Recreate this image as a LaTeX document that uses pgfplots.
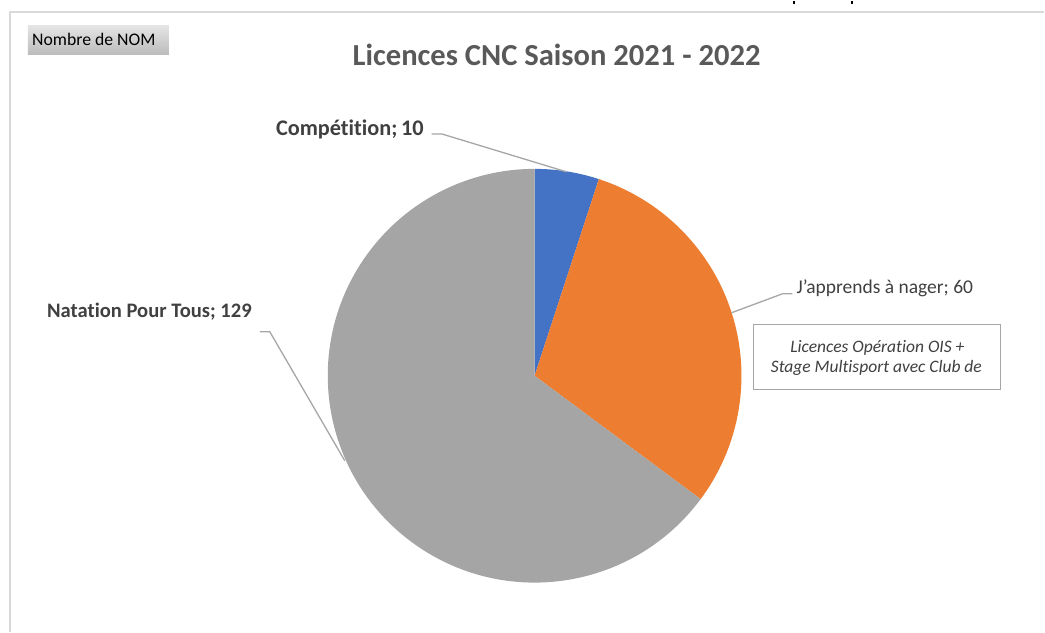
\documentclass[border=0pt]{standalone}
\usepackage{pgfplots}
\pgfplotsset{compat=1.18}
\usepackage{pgfplotstable}
\usepackage{fontspec}
\setmainfont{Carlito}[Ligatures={ResetAll,NoCommon}]
\definecolor{cblue}{HTML}{4472C4}
\definecolor{corange}{HTML}{ED7D31}
\definecolor{cgray}{HTML}{A5A5A5}
\definecolor{ctitle}{HTML}{595959}
\definecolor{clab}{HTML}{404040}
\definecolor{clead}{HTML}{A6A6A6}
\definecolor{cframe}{HTML}{D9D9D9}
\definecolor{btop}{HTML}{E4E4E4}
\definecolor{bbot}{HTML}{BBBBBB}
\pgfplotstableread{
slice value
Competition 10
Apprendre 60
Natation 129
}\piedata
\begin{document}
\begin{tikzpicture}
\pgfplotstablegetelem{0}{value}\of\piedata \edef\va{\pgfplotsretval}
\pgfplotstablegetelem{1}{value}\of\piedata \edef\vb{\pgfplotsretval}
\pgfplotstablegetelem{2}{value}\of\piedata \edef\vc{\pgfplotsretval}
\pgfmathsetmacro\tot{\va+\vb+\vc}
\pgfmathsetmacro\angA{90-(\va/\tot)*360}
\pgfmathsetmacro\angB{\angA-(\vb/\tot)*360}
\begin{axis}[width=1045bp,height=631bp,scale only axis,
  xmin=0,xmax=1045,ymin=0,ymax=631,y dir=reverse,
  hide axis,clip=false]
\path (axis cs:0,0) rectangle (axis cs:1045,631);
% frame
\draw[cframe,line width=1.5bp] (axis cs:10,631) -- (axis cs:10,11) -- (axis cs:1045,11);
% cut descenders at top
\draw[black,line width=2bp] (axis cs:795,0) -- (axis cs:795,3.5);
\draw[black,line width=2bp] (axis cs:853,0) -- (axis cs:853,3.5);
% button
\shade[top color=btop,bottom color=bbot] (axis cs:28,25) rectangle (axis cs:169,54);
\node[anchor=base west,inner sep=0pt,font=\fontsize{17.7bp}{20bp}\selectfont,text=black] at (axis cs:32,45) {Nombre de NOM};
% title
\node[anchor=base,inner sep=0pt,font=\fontsize{30.6bp}{34bp}\selectfont\bfseries,text=ctitle] at (axis cs:557,65) {Licences CNC Saison 2021 - 2022};
% pie
\fill[cblue] (axis cs:535,375) -- ++(90:207bp) arc[start angle=90,end angle=\angA,radius=207bp] -- cycle;
\fill[corange] (axis cs:535,375) -- ++(\angA:207bp) arc[start angle=\angA,end angle=\angB,radius=207bp] -- cycle;
\fill[cgray] (axis cs:535,375) -- ++(\angB:207bp) arc[start angle=\angB,end angle=-270,radius=207bp] -- cycle;
% leader lines
\draw[clead,line width=1.3bp] (axis cs:432,133) -- (axis cs:442,133) -- (axis cs:567,171);
\draw[clead,line width=1.3bp] (axis cs:732,312) -- (axis cs:783,293) -- (axis cs:793,293);
\draw[clead,line width=1.3bp] (axis cs:260,331) -- (axis cs:270,331) -- (axis cs:345,460);
% labels
\node[anchor=base west,inner sep=0pt,font=\fontsize{22.3bp}{24bp}\selectfont\bfseries,text=clab] at (axis cs:276,135) {Compétition;\,10};
\node[anchor=base west,inner sep=0pt,font=\fontsize{20.6bp}{24bp}\selectfont\bfseries,text=clab] at (axis cs:47,317) {Natation Pour Tous; 129};
\node[anchor=base west,inner sep=0pt,font=\fontsize{19.5bp}{24bp}\selectfont,text=clab] at (axis cs:797,293) {J'apprends à nager; 60};
% text box
\draw[clead,line width=1.3bp,fill=white] (axis cs:754,324) rectangle (axis cs:1001,389);
\node[anchor=base,inner sep=0pt,font=\fontsize{17.5bp}{20bp}\selectfont\itshape,text=clab] at (axis cs:878,352) {Licences Opération OIS +};
\node[anchor=base,inner sep=0pt,font=\fontsize{17.5bp}{20bp}\selectfont\itshape,text=clab] at (axis cs:877,372) {Stage Multisport avec Club de};
\end{axis}
\end{tikzpicture}
\end{document}
